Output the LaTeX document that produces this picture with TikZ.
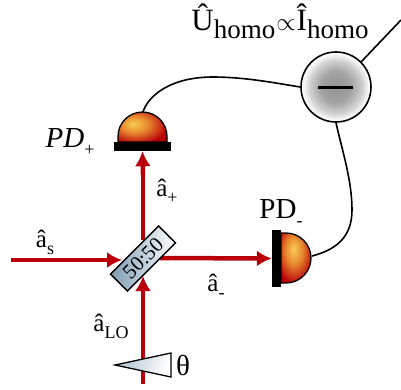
\documentclass[tikz,border=0pt]{standalone}
\usepackage{fontspec}
\setmainfont{Liberation Serif}
\usepackage{tikz}
\usetikzlibrary{positioning, arrows.meta}
\definecolor{beamred}{RGB}{185,0,10}
\definecolor{steel}{RGB}{125,155,178}
\definecolor{domecore}{RGB}{248,205,85}
\definecolor{domemid}{RGB}{232,135,45}
\pgfdeclareradialshading{domeup}{\pgfpoint{-9.5bp}{5bp}}{color(0bp)=(domecore); color(14bp)=(domemid); color(32bp)=(beamred); color(100bp)=(beamred)}
\pgfdeclareradialshading{domeright}{\pgfpoint{-4bp}{9bp}}{color(0bp)=(domecore); color(14bp)=(domemid); color(32bp)=(beamred); color(100bp)=(beamred)}
\pgfdeclareradialshading{subtractor}{\pgfpoint{0bp}{0bp}}{color(0bp)=(black!42); color(11bp)=(black!36); color(19bp)=(black!18); color(24bp)=(white); color(100bp)=(white)}
\newcommand{\lowsub}[1]{\raisebox{-0.28em}{\fontsize{27}{27}\selectfont #1}}
\newcommand{\smallsub}[1]{\raisebox{-0.3em}{\fontsize{18}{18}\selectfont #1}}
\begin{document}
\begin{tikzpicture}[x=1pt, y=-1pt, font=\fontsize{29}{32}\selectfont,
    beam/.style={draw=beamred, line width=4.5pt, -{Latex[length=15pt, width=16pt]}},
    beamplain/.style={draw=beamred, line width=4.5pt},
    wire/.style={draw=black, line width=1.6pt},
    plate/.style={fill=black, draw=none, inner sep=0pt},
    label/.style={inner sep=0pt, font=\fontsize{25}{28}\selectfont}]
    \useasboundingbox (0,0) rectangle (401,389);

    \node[inner sep=0pt] (start) at (143,385) {};
    \node[inner sep=0pt] (inleft) at (10,260) {};
    \node[plate, minimum width=57pt, minimum height=9pt] (plateplus) at (142.5,146.5) {};
    \node[plate, minimum width=9pt, minimum height=57pt] (plateminus) at (276.5,258.5) {};
    \node[circle, draw, line width=1.6pt, minimum size=70pt, inner sep=0pt, shading=subtractor] (diff) at (336,87) {};
    \coordinate (out) at (401,20);
    \coordinate (domeplus) at (143,112);
    \coordinate (domeminus) at (312,256);

    \draw[beamplain] (start) -- (143,300);
    \draw[beam] (143,300) -- (143,276);
    \draw[beamplain] (143,240) -- (143,175);
    \draw[beam] (143,175) -- (plateplus.south);
    \draw[beam] (inleft) -- (122,260);
    \draw[beam] (160,258) -- (plateminus.west);

    \node[draw, line width=1.4pt, rotate=45, minimum width=68pt, minimum height=24pt, inner sep=0pt,
        left color=steel, right color=white, font=\fontsize{21}{21}\selectfont] (bs) at (143,258.5) {50:50};

    \draw[line width=1.3pt, shading=domeup] (118,142) -- (118,136.5) arc[start angle=180, end angle=360, radius=24.5] -- (167,142) -- cycle;
    \draw[line width=1.3pt, shading=domeright] (281,233) -- (286,233) arc[start angle=-90, end angle=90, radius=25] -- (281,283) -- cycle;

    \node[inner sep=0pt, minimum size=0pt] (wedgetip) at (115,365) {};
    \draw[line width=1.3pt, left color=steel!60!white, right color=white, shading angle=70] (wedgetip.center) -- (171,353) -- (171,377) -- cycle;
    \draw[black, line width=3pt] (318,87) -- (353,87);

    \draw[wire] (domeplus) .. controls (148,96) and (170,77) .. (213,77) .. controls (245,77) and (275,83) .. (diff.west);
    \draw[wire] (diff.south) .. controls (342,150) and (352,180) .. (352,210) .. controls (352,238) and (335,250) .. (domeminus);
    \draw[wire] (diff.45) -- (out);

    \node[inner sep=0pt, anchor=base, font=\fontsize{31}{34}\selectfont] (uhomo) at (280,30) {\^U\lowsub{homo}\kern1pt$\propto$\kern1pt\^I\lowsub{homo}};
    \node[inner sep=0pt, anchor=base] (pdplus) at (70,147) {\textit{PD}\smallsub{+}};
    \node[inner sep=0pt, anchor=base] (pdminus) at (281,218) {PD\smallsub{-}};
    \node[label, anchor=base] (aplus) at (167,196) {\^a\smallsub{+}};
    \node[label, anchor=base] (as) at (45,247) {\^a\smallsub{s}};
    \node[label, anchor=base] (aminus) at (216,291) {\^a\smallsub{-}};
    \node[label, anchor=base] (alo) at (111,331) {\^a\smallsub{LO}};
    \node[right=61pt of wedgetip.center, inner sep=0pt] (phase) {θ};
\end{tikzpicture}
\end{document}
